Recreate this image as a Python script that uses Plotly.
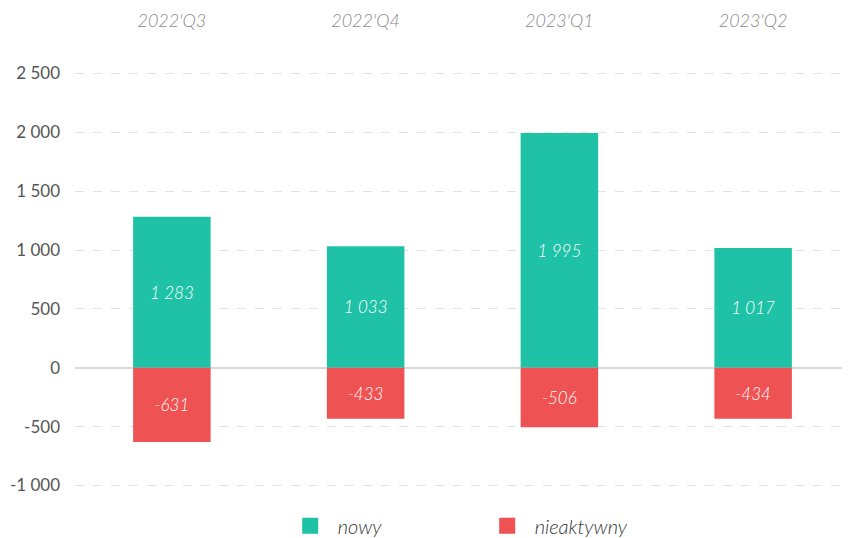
import plotly.graph_objects as go

categories = ["2022'Q3", "2022'Q4", "2023'Q1", "2023'Q2"]
nowy = [1283, 1033, 1995, 1017]
nieaktywny = [-631, -433, -506, -434]
tick_vals = [-1000, -500, 0, 500, 1000, 1500, 2000, 2500]

GREEN = "#1fc2a6"
RED = "#ee5253"

def fmt(v):
    return f"{v:,}".replace(",", " ")

fig = go.Figure()
fig.add_bar(x=categories, y=nowy, name="nowy", marker_color=GREEN,
            marker_line_width=0, showlegend=False,
            text=[fmt(v) for v in nowy], textposition="inside", insidetextanchor="middle",
            textfont=dict(color="white", size=17, family="Lato", style="italic", weight=300))
fig.add_bar(x=categories, y=nieaktywny, name="nieaktywny", marker_color=RED,
            marker_line_width=0, showlegend=False,
            text=[fmt(v) for v in nieaktywny], textposition="inside", insidetextanchor="middle",
            textfont=dict(color="white", size=17, family="Lato", style="italic", weight=300))
# legend entries with larger square swatches
for name, col in [("nowy", GREEN), ("nieaktywny", RED)]:
    fig.add_scatter(x=[None], y=[None], mode="markers", name=name,
                    marker=dict(symbol="square", size=19, color=col))

# the page body has an 8px margin, so the figure is 8px smaller than the window
fig.update_layout(
    width=842, height=530,
    barmode="relative", bargap=0.6,
    separators=". ",
    plot_bgcolor="white", paper_bgcolor="white",
    margin=dict(l=67, r=0, t=35.5, b=28.5, autoexpand=False),
    font=dict(family="Lato", color="#555"),
    showlegend=True,
    legend=dict(orientation="h", x=0.268, xanchor="left", y=-0.036, yanchor="middle",
                font=dict(size=20, family="Lato", color="#333", style="italic", weight=300),
                entrywidth=137, itemsizing="trace", itemwidth=45),
    uniformtext=dict(mode="show", minsize=17),
)
fig.update_xaxes(side="top", showgrid=False, showline=False, ticks="", automargin=False,
                 tickfont=dict(size=18, color="#8a8a8a", family="Lato", style="italic", weight=300),
                 ticklabelstandoff=12)
fig.update_yaxes(range=[-1200, 2750], tickvals=tick_vals, automargin=False,
                 ticktext=[fmt(v) for v in tick_vals],
                 showgrid=True, gridcolor="#e3e3e3", griddash="dash", gridwidth=1,
                 zeroline=True, zerolinecolor="#d9d9d9", zerolinewidth=1.5,
                 showline=False, ticks="",
                 tickfont=dict(size=17, color="#555", family="Lato"),
                 ticklabelstandoff=14)

fig.write_html("out.html")
